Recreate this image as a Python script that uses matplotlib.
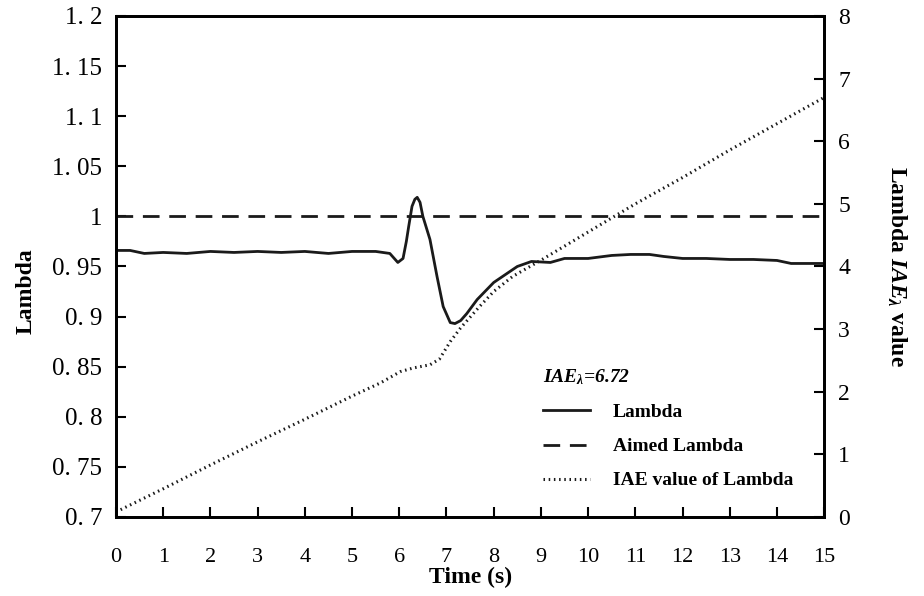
import numpy as np
import matplotlib
matplotlib.use('Agg')
import matplotlib.pyplot as plt
from matplotlib.ticker import FixedLocator, FixedFormatter

plt.rcParams['font.family'] = 'Liberation Serif'
plt.rcParams['mathtext.fontset'] = 'custom'
plt.rcParams['mathtext.it'] = 'Liberation Serif:italic:bold'
plt.rcParams['mathtext.rm'] = 'Liberation Serif:bold'

t_lambda = [0.0, 0.3, 0.6, 1.0, 1.5, 2.0, 2.5, 3.0, 3.5, 4.0, 4.5, 5.0, 5.5, 5.8,
            5.97, 6.08, 6.15, 6.2, 6.27, 6.33, 6.38, 6.44, 6.5, 6.65, 6.8, 6.93,
            7.08, 7.18, 7.3, 7.43, 7.65, 8.0, 8.5, 8.8, 9.2, 9.5, 10.0, 10.5,
            10.9, 11.3, 11.6, 12.0, 12.5, 13.0, 13.5, 14.0, 14.3, 15.0]
lambda_vals = [0.966, 0.966, 0.963, 0.964, 0.963, 0.965, 0.964, 0.965, 0.964, 0.965,
               0.963, 0.965, 0.965, 0.963, 0.954, 0.958, 0.975, 0.990, 1.010, 1.017,
               1.019, 1.014, 1.000, 0.977, 0.940, 0.910, 0.894, 0.893, 0.896, 0.903,
               0.917, 0.934, 0.950, 0.955, 0.954, 0.958, 0.958, 0.961, 0.962, 0.962,
               0.960, 0.958, 0.958, 0.957, 0.957, 0.956, 0.953, 0.953]

aimed_lambda = 1.0

# IAE of lambda (right axis)
t_iae = [0, 1, 2, 3, 4, 5, 5.6, 6.02, 6.3, 6.65, 6.85, 7.08, 7.3, 7.7, 8.0, 8.4,
         9.0, 10, 11, 12, 13, 14, 15]
iae_vals = [0.08, 0.45, 0.83, 1.2, 1.56, 1.93, 2.14, 2.32, 2.38, 2.43, 2.52, 2.8,
            3.02, 3.36, 3.6, 3.84, 4.1, 4.55, 5.0, 5.42, 5.86, 6.28, 6.7]

left_ticks = [0.7, 0.75, 0.8, 0.85, 0.9, 0.95, 1.0, 1.05, 1.1, 1.15, 1.2]
left_labels = ['0. 7', '0. 75', '0. 8', '0. 85', '0. 9', '0. 95', '1', '1. 05', '1. 1', '1. 15', '1. 2']
x_ticks = list(range(16))
right_ticks = list(range(9))

fig = plt.figure(figsize=(9.24, 5.96), dpi=100)
ax = fig.add_axes([0.1255, 0.1326, 0.7665, 0.8406])
ax2 = ax.twinx()

ax.plot(t_lambda, lambda_vals, color='#1a1a1a', lw=2.0, label='Lambda')
ax.axhline(aimed_lambda, color='#1a1a1a', lw=2.0, ls=(0, (6, 3.5)), label='Aimed Lambda')
l3, = ax2.plot(t_iae, iae_vals, color='#1a1a1a', lw=2.2, ls=(0, (0.5, 1.2)),
               label='IAE value of Lambda')

ax.set_xlim(0, 15)
ax.set_ylim(0.7, 1.2)
ax2.set_ylim(0, 8)

ax.xaxis.set_major_locator(FixedLocator(x_ticks))
ax.yaxis.set_major_locator(FixedLocator(left_ticks))
ax.yaxis.set_major_formatter(FixedFormatter(left_labels))
ax2.yaxis.set_major_locator(FixedLocator(right_ticks))

ax.tick_params(axis='y', direction='in', length=7, width=1.5, labelsize=18, pad=10)
ax.tick_params(axis='x', direction='in', length=7, width=1.5, labelsize=16, pad=22)
ax2.tick_params(axis='y', direction='in', length=7, width=1.5, labelsize=17, pad=10)
for a in (ax, ax2):
    for s in a.spines.values():
        s.set_linewidth(2)

ax.set_xlabel('Time (s)', fontsize=17, fontweight='bold', labelpad=0)
ax.set_ylabel('Lambda', fontsize=17, fontweight='bold')
ax.yaxis.set_label_coords(-0.112, 0.45)
ax2.set_ylabel(r'Lambda $IAE_\lambda$ value', fontsize=17, fontweight='bold',
               rotation=270, labelpad=42)

h1, lab1 = ax.get_legend_handles_labels()
leg = ax.legend(h1 + [l3], lab1 + [l3.get_label()], loc='lower right',
                bbox_to_anchor=(0.981, 0.02), frameon=False, fontsize=14,
                handlelength=2.4, handletextpad=1.2, labelspacing=0.85,
                title=r'$IAE_\lambda$=6.72', alignment='left')
leg.get_title().set_fontsize(14)
leg.get_title().set_fontstyle('italic')
leg.get_title().set_fontweight('bold')
for txt in leg.get_texts():
    txt.set_fontweight('bold')

fig.savefig('out.png', dpi=100)
